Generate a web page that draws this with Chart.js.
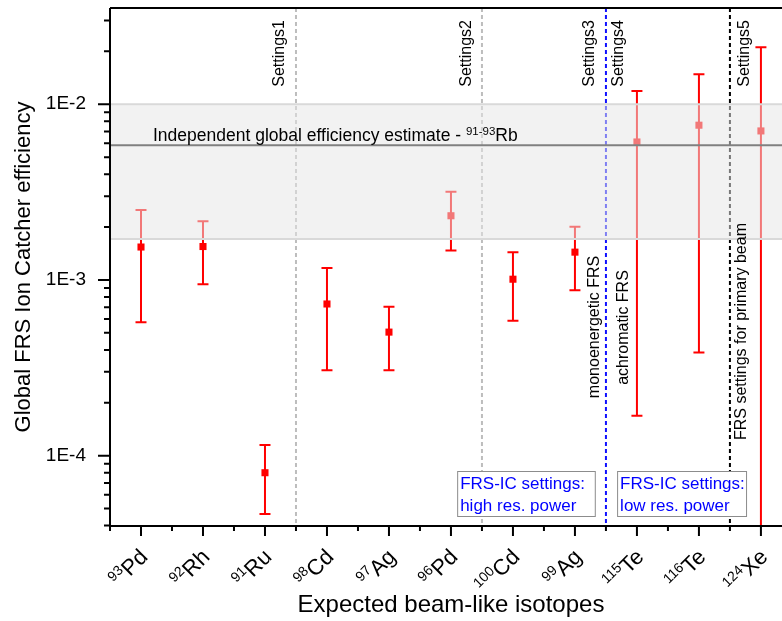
<!DOCTYPE html>
<html>
<head>
<meta charset="utf-8">
<script src="https://cdn.jsdelivr.net/npm/chart.js@4.4.1/dist/chart.umd.min.js"></script>
<style>
  html, body { margin: 0; padding: 0; background: #fff; }
  #wrap { width: 782px; height: 621px; }
</style>
</head>
<body>
<div id="wrap"><canvas id="effChart"></canvas></div>
<script>
// expected beam-like isotopes (mass number + element)
const massNumbers = [93, 92, 91, 98, 97, 96, 100, 99, 115, 116, 124];
const elements = ['Pd', 'Rh', 'Ru', 'Cd', 'Ag', 'Pd', 'Cd', 'Ag', 'Te', 'Te', 'Xe'];

// global efficiency and its error range (absolute bounds)
const efficiency = [1.54e-3, 1.55e-3, 8.0e-5, 7.3e-4, 5.05e-4, 2.32e-3, 1.01e-3, 1.44e-3, 6.1e-3, 7.6e-3, 7.05e-3];
const upperBound = [2.50e-3, 2.16e-3, 1.15e-4, 1.17e-3, 7.05e-4, 3.18e-3, 1.44e-3, 2.01e-3, 1.19e-2, 1.48e-2, 2.11e-2];
const lowerBound = [5.74e-4, 9.45e-4, 4.66e-5, 3.06e-4, 3.06e-4, 1.47e-3, 5.86e-4, 8.73e-4, 1.69e-4, 3.87e-4, 1.0e-5];

// independent estimate from 91-93Rb
const estimateValue = 5.85e-3;
const estimateBand = [1.71e-3, 1.0e-2];

// settings boundaries (between categories)
const separators = [2.5, 5.5, 7.5, 9.5];
const yTickLabels = [1e-4, 1e-3, 1e-2];

const FONT = '"Liberation Sans", Arial, sans-serif';

function supText(ctx, sup, main, x, y, size, supSize, align) {
  ctx.font = supSize + 'px ' + FONT;
  const ws = ctx.measureText(sup).width;
  ctx.font = size + 'px ' + FONT;
  const wm = ctx.measureText(main).width;
  let x0 = x;
  if (align === 'right') x0 = x - ws - wm;
  ctx.textAlign = 'left';
  ctx.textBaseline = 'alphabetic';
  ctx.font = supSize + 'px ' + FONT;
  ctx.fillText(sup, x0, y - size * 0.38);
  ctx.font = size + 'px ' + FONT;
  ctx.fillText(main, x0 + ws, y);
}

function vText(ctx, text, x, y, align) {
  ctx.save();
  ctx.translate(x, y);
  ctx.rotate(-Math.PI / 2);
  ctx.textAlign = align;
  ctx.textBaseline = 'alphabetic';
  ctx.fillText(text, 0, 0);
  ctx.restore();
}

const decor = {
  id: 'decor',
  beforeDatasetsDraw(chart) {
    const { ctx, chartArea: a, scales: { x, y } } = chart;
    ctx.save();
    ctx.beginPath();
    ctx.rect(a.left, a.top, a.right - a.left, a.bottom - a.top);
    ctx.clip();

    const sepColors = ['#bdbdbd', '#bdbdbd', '#1010ff', '#000000'];
    ctx.lineWidth = 2;
    ctx.setLineDash([4, 3]);
    separators.forEach((s, i) => {
      const px = x.getPixelForValue(s);
      ctx.strokeStyle = sepColors[i];
      ctx.beginPath();
      ctx.moveTo(px, a.top);
      ctx.lineTo(px, a.bottom);
      ctx.stroke();
    });
    ctx.setLineDash([]);

    // error bars
    ctx.strokeStyle = '#ff0000';
    ctx.lineWidth = 2;
    efficiency.forEach((v, i) => {
      const px = x.getPixelForValue(i);
      const top = y.getPixelForValue(upperBound[i]);
      const bot = y.getPixelForValue(lowerBound[i]);
      ctx.beginPath();
      ctx.moveTo(px, top); ctx.lineTo(px, bot);
      ctx.moveTo(px - 5.5, top); ctx.lineTo(px + 5.5, top);
      ctx.moveTo(px - 5.5, bot); ctx.lineTo(px + 5.5, bot);
      ctx.stroke();
    });
    ctx.restore();
  },
  afterDatasetsDraw(chart) {
    const { ctx, chartArea: a, scales: { x, y } } = chart;
    ctx.save();
    // estimate band (translucent)
    const bTop = y.getPixelForValue(estimateBand[1]);
    const bBot = y.getPixelForValue(estimateBand[0]);
    ctx.fillStyle = 'rgba(231,231,231,0.52)';
    ctx.fillRect(a.left, bTop, a.right - a.left, bBot - bTop);
    ctx.strokeStyle = '#d9d9d9';
    ctx.lineWidth = 2;
    ctx.beginPath();
    ctx.moveTo(a.left, bTop); ctx.lineTo(a.right, bTop);
    ctx.moveTo(a.left, bBot); ctx.lineTo(a.right, bBot);
    ctx.stroke();

    const ey = y.getPixelForValue(estimateValue);
    ctx.strokeStyle = '#808080';
    ctx.beginPath();
    ctx.moveTo(a.left, ey); ctx.lineTo(a.right, ey);
    ctx.stroke();

    ctx.fillStyle = '#000';
    ctx.font = '17.5px ' + FONT;
    ctx.textAlign = 'left';
    ctx.textBaseline = 'alphabetic';
    const lead = 'Independent global efficiency estimate - ';
    const tx = a.left + 43, ty = ey - 4;
    ctx.fillText(lead, tx, ty);
    const lw = ctx.measureText(lead).width;
    supText(ctx, '91-93', 'Rb', tx + lw, ty, 17.5, 11.5, 'left');

    // settings labels
    ctx.font = '16px ' + FONT;
    ctx.fillStyle = '#000';
    const s1 = x.getPixelForValue(2.5), s2 = x.getPixelForValue(5.5);
    const s3 = x.getPixelForValue(7.5), s5 = x.getPixelForValue(9.5);
    vText(ctx, 'Settings1', s1 - 12, a.top + 12, 'right');
    vText(ctx, 'Settings2', s2 - 11, a.top + 12, 'right');
    vText(ctx, 'Settings3', s3 - 12, a.top + 12, 'right');
    vText(ctx, 'Settings4', s3 + 17.5, a.top + 12, 'right');
    vText(ctx, 'Settings5', s5 + 19, a.top + 12, 'right');
    vText(ctx, 'monoenergetic FRS', s3 - 6.5, 327, 'center');
    vText(ctx, 'achromatic FRS', s3 + 22, 327.5, 'center');
    vText(ctx, 'FRS settings for primary beam', s5 + 16.5, 331.5, 'center');

    // FRS-IC boxes
    const boxes = [
      [x.getPixelForValue(5.1), x.getPixelForValue(7.32), 'high res. power'],
      [x.getPixelForValue(7.68), x.getPixelForValue(9.76), 'low res. power']
    ];
    boxes.forEach(([l, r, t]) => {
      const top = a.bottom - 55, h = 45;
      ctx.fillStyle = '#fff';
      ctx.fillRect(l, top, r - l, h);
      ctx.strokeStyle = '#8c8c8c';
      ctx.lineWidth = 1;
      ctx.strokeRect(l + 0.5, top + 0.5, r - l, h);
      ctx.fillStyle = '#0000ff';
      ctx.font = '17px ' + FONT;
      ctx.textAlign = 'left';
      ctx.fillText('FRS-IC settings:', l + 3, top + 17.5);
      ctx.fillText(t, l + 3, top + 40);
    });
    ctx.restore();
  },
  afterDraw(chart) {
    const { ctx, chartArea: a, scales: { x, y } } = chart;
    ctx.save();
    ctx.strokeStyle = '#000';
    ctx.lineWidth = 2;
    ctx.beginPath();
    ctx.moveTo(a.left, a.top); ctx.lineTo(a.right, a.top);
    ctx.moveTo(a.left, a.top); ctx.lineTo(a.left, a.bottom + 1);
    ctx.moveTo(a.left - 1, a.bottom); ctx.lineTo(a.right, a.bottom);
    // y ticks
    for (let d = -5; d <= -1; d++) {
      for (let m = 1; m <= 9; m++) {
        const v = m * Math.pow(10, d);
        if (v < y.min || v > y.max) continue;
        const py = y.getPixelForValue(v);
        ctx.moveTo(a.left - (m === 1 ? 12 : 6), py);
        ctx.lineTo(a.left, py);
      }
    }
    // x ticks
    for (let k = -0.5; k <= x.max; k += 0.5) {
      const px = x.getPixelForValue(k);
      ctx.moveTo(px, a.bottom);
      ctx.lineTo(px, a.bottom + (Number.isInteger(k) ? 10 : 5));
    }
    ctx.stroke();

    // x labels
    ctx.fillStyle = '#000';
    massNumbers.forEach((mn, i) => {
      const px = x.getPixelForValue(i);
      ctx.save();
      ctx.translate(px + 8, a.bottom + 32);
      ctx.rotate(-Math.PI / 4);
      supText(ctx, String(mn), elements[i], 0, 0, 22, 14, 'right');
      ctx.restore();
    });

    // axis titles
    ctx.font = '24px ' + FONT;
    ctx.textAlign = 'center';
    ctx.textBaseline = 'alphabetic';
    ctx.fillText('Expected beam-like isotopes', x.getPixelForValue(5), 612);
    ctx.font = '22px ' + FONT;
    vText(ctx, 'Global FRS Ion Catcher efficiency', 30, (a.top + a.bottom) / 2, 'center');
    ctx.restore();
  }
};

new Chart(document.getElementById('effChart'), {
  type: 'scatter',
  data: {
    datasets: [{
      data: efficiency.map((v, i) => ({ x: i, y: v })),
      pointStyle: 'rect',
      pointRadius: 5,
      backgroundColor: '#ff0000',
      borderWidth: 0
    }]
  },
  options: {
    responsive: true,
    maintainAspectRatio: false,
    animation: false,
    layout: { autoPadding: false, padding: { top: 8, right: 0, left: 0, bottom: 0 } },
    plugins: { legend: { display: false }, tooltip: { enabled: false } },
    scales: {
      x: {
        type: 'linear', min: -0.5, max: 10.34,
        grid: { display: false }, border: { display: false },
        ticks: { display: false },
        afterFit(s) { s.height = 95; s.paddingLeft = 0; s.paddingRight = 0; }
      },
      y: {
        type: 'logarithmic', min: 3.98e-5, max: 3.53e-2,
        grid: { display: false }, border: { display: false },
        afterBuildTicks(s) { s.ticks = yTickLabels.map(v => ({ value: v })); },
        ticks: {
          callback: v => '1E' + Math.round(Math.log10(v)),
          font: { family: FONT, size: 19 },
          color: '#000',
          padding: 16
        },
        afterFit(s) { s.width = 110; s.paddingTop = 0; s.paddingBottom = 0; }
      }
    }
  },
  plugins: [decor]
});
</script>
</body>
</html>
